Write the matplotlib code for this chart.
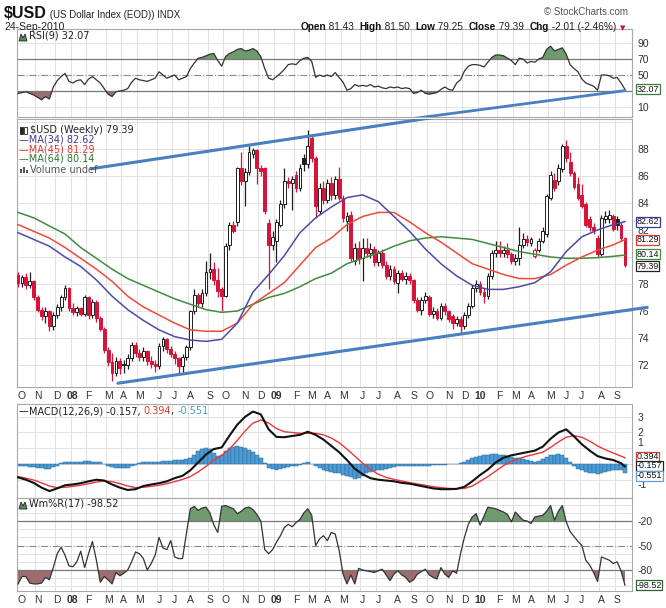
import numpy as np
import pandas as pd
import matplotlib
matplotlib.use('Agg')
import matplotlib.pyplot as plt
from matplotlib.patches import Rectangle, Polygon
from matplotlib.transforms import blended_transform_factory

plt.rcParams['font.family'] = ['DejaVu Sans']

# ---------------- data (weekly) ----------------
weeks = pd.date_range('2007-10-05', periods=156, freq='W-FRI')

opens = [78.7, 78.1, 78.5, 77.9, 78.2, 77.0, 76.1, 75.6, 76.0, 74.9,
         75.7, 76.3, 77.0, 77.7, 76.2, 75.9, 76.2, 75.8, 77.0, 75.7,
         76.7, 75.5, 74.7, 73.1, 72.2, 71.4, 72.3, 72.1, 72.0, 72.5,
         73.5, 72.9, 72.6, 73.0, 72.3, 72.1, 71.9, 73.4, 73.9, 73.2,
         72.8, 72.5, 71.9, 72.6, 73.3, 76.0, 77.2, 76.6, 77.3, 78.9,
         79.1, 78.3, 77.6, 77.1, 80.9, 82.4, 82.6, 86.6, 85.6, 86.3,
         87.6, 87.9, 86.6, 86.6, 82.5, 80.9, 81.2, 82.4, 83.9, 85.6,
         85.5, 86.1, 85.1, 87.3, 86.9, 88.8, 87.3, 83.4, 85.1, 84.2,
         85.5, 84.6, 85.8, 84.4, 82.7, 83.1, 79.7, 80.7, 79.9, 80.7,
         80.3, 80.6, 79.6, 80.3, 79.4, 78.6, 79.1, 78.1, 78.8, 78.4,
         78.6, 78.3, 76.8, 76.1, 76.8, 77.0, 75.8, 76.0, 75.5, 76.4,
         76.0, 75.6, 75.1, 75.4, 74.9, 75.7, 76.4, 77.7, 78.0, 77.4,
         77.1, 78.6, 80.3, 80.5, 80.3, 80.5, 80.2, 79.7, 79.9, 80.9,
         81.3, 81.0, 80.1, 80.5, 81.2, 81.7, 84.4, 85.7, 85.6, 86.5,
         88.2, 87.0, 86.2, 85.4, 84.6, 83.9, 82.8, 82.2, 81.4, 80.2,
         82.8, 82.8, 83.0, 82.8, 82.4, 81.43]
highs = [78.9, 78.7, 78.8, 78.9, 78.3, 77.2, 76.3, 76.3, 76.1, 75.9,
         76.5, 77.2, 77.9, 77.8, 76.6, 76.4, 76.3, 77.2, 77.1, 76.9,
         76.8, 75.6, 74.8, 73.3, 72.9, 72.6, 72.5, 72.4, 72.8, 73.7,
         73.7, 73.2, 73.3, 73.1, 72.7, 72.4, 73.6, 74.1, 74.0, 73.4,
         73.0, 72.6, 72.8, 73.5, 76.1, 77.6, 77.3, 77.6, 79.7, 80.3,
         79.6, 79.2, 77.8, 81.0, 82.6, 82.7, 86.7, 87.8, 86.6, 88.2,
         88.1, 88.0, 86.8, 86.7, 82.8, 81.9, 82.8, 84.2, 86.6, 85.9,
         86.0, 86.4, 86.9, 87.6, 89.4, 89.1, 87.5, 85.5, 85.6, 85.8,
         85.9, 86.0, 86.7, 84.6, 83.3, 83.4, 81.0, 81.2, 81.4, 81.4,
         81.0, 80.8, 80.5, 80.6, 79.7, 79.4, 79.3, 79.0, 79.0, 78.9,
         78.8, 78.4, 77.0, 77.0, 77.4, 77.2, 76.3, 76.2, 76.6, 76.6,
         76.1, 75.8, 75.6, 75.6, 75.9, 76.6, 77.9, 78.3, 78.2, 77.7,
         78.8, 80.5, 81.2, 81.2, 80.8, 81.0, 80.4, 80.2, 82.2, 81.8,
         81.6, 81.5, 80.7, 81.4, 82.2, 84.7, 86.4, 86.2, 86.9, 88.4,
         88.7, 87.8, 86.4, 85.9, 85.4, 84.1, 83.0, 82.5, 81.6, 83.1,
         83.4, 83.5, 83.2, 83.0, 82.6, 81.50]
lows = [77.8, 77.8, 77.6, 77.7, 76.8, 75.9, 75.3, 75.1, 74.5, 74.6,
        75.5, 76.0, 76.8, 76.0, 75.7, 75.6, 75.6, 75.6, 75.4, 75.5,
        75.2, 74.5, 72.9, 71.9, 70.8, 71.2, 71.3, 71.4, 71.7, 72.3,
        72.6, 72.3, 72.3, 72.0, 71.8, 71.5, 71.7, 73.0, 72.9, 72.6,
        72.1, 71.4, 71.5, 72.4, 73.1, 75.8, 76.4, 76.3, 77.1, 78.4,
        77.9, 77.0, 76.0, 77.0, 80.5, 81.8, 82.3, 85.3, 83.8, 86.1,
        87.3, 85.4, 86.0, 83.2, 77.6, 80.5, 79.6, 82.2, 83.6, 85.1,
        83.5, 84.8, 84.9, 86.4, 86.6, 87.0, 82.9, 83.2, 83.9, 84.0,
        84.2, 84.3, 84.2, 82.6, 81.9, 79.7, 79.4, 79.5, 78.2, 80.0,
        79.9, 79.3, 79.3, 79.2, 78.4, 78.3, 78.0, 77.3, 78.2, 78.0,
        78.0, 76.6, 75.9, 75.7, 76.6, 75.6, 75.5, 75.3, 75.3, 75.7,
        75.2, 74.7, 74.9, 74.4, 74.7, 75.5, 76.2, 77.4, 77.2, 76.6,
        76.9, 78.4, 80.0, 80.0, 80.0, 79.9, 79.5, 79.4, 79.4, 80.7,
        80.8, 80.8, 79.9, 80.4, 81.0, 81.5, 84.2, 84.9, 85.3, 86.3,
        87.0, 86.0, 85.0, 84.2, 83.6, 82.2, 81.9, 81.7, 80.0, 80.1,
        82.5, 82.5, 81.9, 82.0, 81.2, 79.25]
closes = [78.1, 78.5, 77.9, 78.2, 77.0, 76.1, 75.6, 76.0, 74.9, 75.7,
          76.3, 77.0, 77.7, 76.2, 75.9, 76.2, 75.8, 77.0, 75.7, 76.7,
          75.5, 74.7, 73.1, 72.2, 71.4, 72.3, 71.8, 72.0, 72.5, 73.5,
          72.9, 72.6, 73.0, 72.3, 72.1, 71.9, 73.4, 73.9, 73.2, 72.8,
          72.5, 71.9, 72.6, 73.3, 76.0, 77.2, 76.6, 77.3, 78.9, 79.1,
          78.3, 77.5, 77.1, 80.8, 82.4, 81.9, 86.6, 85.6, 86.3, 87.8,
          87.9, 86.6, 86.4, 83.4, 80.9, 81.5, 82.6, 83.9, 85.6, 85.5,
          85.8, 85.1, 86.6, 86.9, 88.2, 87.3, 83.8, 85.1, 84.2, 85.5,
          84.6, 85.8, 84.4, 82.9, 83.0, 79.9, 80.7, 79.9, 80.7, 80.3,
          80.6, 79.6, 80.3, 79.4, 78.6, 79.1, 78.2, 78.8, 78.4, 78.6,
          78.3, 76.8, 76.1, 76.8, 77.1, 75.8, 76.0, 75.5, 76.4, 76.0,
          75.4, 75.1, 75.4, 74.9, 75.7, 76.4, 77.7, 78.0, 77.4, 77.1,
          78.6, 80.3, 80.5, 80.3, 80.5, 80.2, 79.7, 79.9, 80.9, 81.3,
          81.1, 81.3, 80.5, 81.2, 81.9, 84.5, 86.1, 85.1, 86.6, 88.2,
          87.3, 86.2, 85.2, 84.4, 83.8, 82.4, 82.2, 82.0, 80.2, 82.9,
          83.0, 83.1, 82.1, 82.4, 81.40, 79.39]

# moving averages, read every 4 weeks
ma_wk = list(range(0, 156, 4)) + [155]
ma34 = [81.8, 81.3, 80.8, 80.0, 79.3, 78.3, 77.1, 76.1, 75.3, 74.6,
        74.1, 73.85, 73.75, 73.9, 75.1, 77.4, 78.7, 80.1, 81.8, 82.9,
        83.7, 84.4, 84.6, 84.1, 83.0, 81.9, 80.6, 79.5, 78.6, 77.9,
        77.6, 77.6, 77.8, 78.1, 78.9, 80.4, 81.5, 82.0, 82.4, 82.62]
ma45 = [82.4, 81.9, 81.4, 80.7, 79.9, 79.1, 78.2, 77.1, 76.3, 75.7,
        75.1, 74.6, 74.5, 74.5, 75.1, 76.5, 77.3, 78.1, 79.4, 80.7,
        81.4, 82.4, 83.0, 83.3, 83.3, 82.6, 81.8, 81.1, 80.3, 79.5,
        79.1, 78.7, 78.4, 78.4, 78.7, 79.4, 80.0, 80.5, 80.9, 81.29]
ma64 = [83.3, 82.9, 82.3, 81.7, 80.7, 79.9, 79.1, 78.4, 77.9, 77.4,
        76.9, 76.5, 76.1, 75.9, 76.0, 76.5, 77.0, 77.3, 77.8, 78.4,
        78.8, 79.5, 79.9, 80.3, 80.8, 81.2, 81.4, 81.5, 81.4, 81.3,
        81.0, 80.7, 80.4, 80.2, 80.0, 79.9, 79.9, 79.95, 80.05, 80.14]

rsi = [27, 28, 29, 27, 25, 22, 19, 23, 20, 35,
       43, 48, 52, 42, 40, 43, 44, 38, 45, 48,
       44, 40, 33, 26, 23, 29, 30, 31, 33, 41,
       46, 44, 43, 42, 44, 46, 54, 50, 46, 48,
       50, 44, 46, 48, 58, 65, 71, 72, 74, 76,
       77, 68, 61, 73, 77, 79, 82, 83, 80, 81,
       83, 80, 73, 58, 46, 44, 48, 52, 57, 63,
       64, 63, 68, 71, 72, 67, 47, 50, 48, 50,
       48, 53, 47, 41, 31, 33, 38, 36, 37, 36,
       38, 35, 36, 34, 33, 35, 34, 35, 33, 34,
       33, 27, 28, 31, 27, 26, 27, 28, 32, 35,
       32, 31, 40, 44, 55, 61, 63, 63, 62, 60,
       66, 72, 75, 75, 74, 71, 68, 63, 71, 70,
       65, 67, 66, 70, 72, 82, 86, 80, 82, 84,
       76, 63, 58, 54, 45, 40, 38, 36, 31, 50,
       50, 49, 46, 47, 40, 32.07]

# MACD(12,26,9), lines read every 2 weeks, histogram weekly
macd_wk = list(range(0, 156, 2)) + [155]
macd = [-0.85, -1.0, -1.2, -1.5, -1.72, -1.55, -1.35, -1.3, -1.22, -1.1,
        -1.0, -1.05, -1.3, -1.5, -1.65, -1.6, -1.4, -1.3, -1.22, -1.1,
        -0.9, -0.75, -0.4, 0.1, 0.6, 0.95, 1.05, 1.8, 2.5, 3.0,
        3.33, 3.15, 2.2, 1.72, 1.7, 1.78, 1.85, 2.05, 1.85, 1.55,
        1.15, 0.75, 0.25, -0.3, -0.65, -0.9, -1.0, -1.05, -1.1, -1.2,
        -1.25, -1.35, -1.45, -1.55, -1.6, -1.6, -1.58, -1.45, -1.1, -0.7,
        -0.35, 0.1, 0.4, 0.55, 0.65, 0.75, 0.85, 1.1, 1.6, 2.0,
        2.2, 1.75, 1.25, 0.85, 0.5, 0.35, 0.25, 0.05, -0.157]
signal = [-0.8, -0.9, -1.02, -1.2, -1.4, -1.5, -1.48, -1.42, -1.35, -1.25,
          -1.15, -1.08, -1.12, -1.25, -1.4, -1.5, -1.48, -1.42, -1.35, -1.25,
          -1.12, -0.98, -0.8, -0.5, -0.15, 0.25, 0.55, 0.95, 1.5, 2.1,
          2.6, 2.8, 2.6, 2.25, 2.05, 2.0, 1.95, 1.95, 1.95, 1.85,
          1.65, 1.35, 0.95, 0.5, 0.05, -0.35, -0.65, -0.85, -0.98, -1.08,
          -1.18, -1.27, -1.35, -1.44, -1.5, -1.55, -1.57, -1.55, -1.4, -1.1,
          -0.8, -0.45, -0.1, 0.15, 0.35, 0.5, 0.62, 0.75, 1.05, 1.4,
          1.7, 1.8, 1.7, 1.45, 1.15, 0.9, 0.7, 0.5, 0.394]
hist = [-0.1, -0.1, -0.15, -0.2, -0.2, -0.25, -0.25, -0.3, -0.3, -0.2, -0.1,
        0.05, 0.1, 0.15, 0.15, 0.15, 0.15, 0.2, 0.2, 0.15, 0.15, 0.1,
        0.0, -0.1, -0.2, -0.25, -0.25, -0.25, -0.25, -0.15, -0.05,
        0.05, 0.1, 0.15, 0.15, 0.15, 0.15, 0.2, 0.2, 0.2, 0.25, 0.25, 0.25, 0.3,
        0.4, 0.6, 0.8, 0.95, 1.0, 0.95, 0.7, 0.5, 0.55, 0.85,
        1.0, 1.1, 1.15, 1.1, 1.0, 0.9, 0.75, 0.55, 0.35, 0.05,
        -0.25, -0.3, -0.35, -0.3, -0.25, -0.2, -0.15, -0.1, -0.05, 0.05,
        0.1, 0.0, -0.1, -0.25, -0.35, -0.45, -0.5, -0.55, -0.6, -0.7,
        -0.75, -0.85, -0.95, -0.9, -0.75, -0.6, -0.5, -0.45, -0.4, -0.35,
        -0.3, -0.25, -0.2, -0.15, -0.12, -0.1, -0.1, -0.1, -0.1, -0.1,
        -0.1, -0.1, -0.08, -0.06, -0.05, -0.04, -0.03, -0.02, 0.0, 0.05,
        0.15, 0.25, 0.35, 0.45, 0.5, 0.55, 0.6, 0.65, 0.65, 0.6,
        0.55, 0.5, 0.45, 0.4, 0.35, 0.3, 0.25, 0.2, 0.15, 0.2,
        0.3, 0.45, 0.55, 0.6, 0.65, 0.55, 0.4, 0.15, -0.1, -0.3,
        -0.4, -0.5, -0.55, -0.6, -0.65, -0.6, -0.5, -0.45, -0.4, -0.4,
        -0.4, -0.551]

willr = [-97, -88, -88, -96, -97, -97, -96, -89, -92, -77,
         -60, -52, -62, -75, -76, -70, -57, -77, -60, -45,
         -68, -95, -88, -92, -97, -83, -87, -84, -80, -70,
         -58, -60, -66, -80, -72, -62, -40, -53, -55, -44,
         -64, -66, -66, -35, -5, -2, -7, -4, -3, -10,
         -25, -34, -2, -1, -3, -5, -11, -8, -4, -3,
         -6, -12, -20, -55, -60, -55, -46, -38, -28, -24,
         -27, -22, -18, -10, -5, -13, -50, -42, -38, -44,
         -34, -36, -56, -85, -97, -86, -97, -78, -80, -81,
         -82, -83, -81, -79, -86, -93, -85, -81, -86, -89,
         -95, -92, -85, -82, -79, -86, -89, -91, -77, -85,
         -89, -81, -84, -60, -40, -24, -15, -11, -25, -14,
         -3, -4, -5, -7, -9, -12, -21, -9, -14, -19,
         -20, -23, -15, -14, -13, -8, -1, -19, -8, -1,
         -21, -33, -39, -45, -50, -68, -74, -83, -94, -64,
         -66, -68, -72, -70, -81, -98.52]

# hand-drawn trend lines (week, value)
upper_trend = ([18.8, 106.0], [86.54, 90.33])
lower_trend = ([25.5, 160.7], [70.65, 76.27])
rsi_trend = ([100.0, 155.0], [-5.0, 30.5])

# ---------------- layout ----------------
W, H = 666, 608
n = len(closes)
x = np.arange(n)
fig = plt.figure(figsize=(W / 100, H / 100), dpi=100)
rend = fig.canvas.get_renderer()


def box(top, bottom):
    return [16.5 / W, 1 - bottom / H, (632 - 16.5) / W, (bottom - top) / H]


ax_rsi = fig.add_axes(box(29, 117))
ax = fig.add_axes(box(119, 387))
ax_macd = fig.add_axes(box(404, 498))
ax_wr = fig.add_axes(box(498, 591))

month_idx = [k for k in range(n) if k == 0 or weeks[k].month != weeks[k - 1].month]
month_lab = [('%02d' % (weeks[k].year % 100)) if weeks[k].month == 1 else 'JFMAMJJASOND'[weeks[k].month - 1]
             for k in month_idx]

GRID = '#e2e2e2'
TXT = '#333333'


def style(a, lo, hi, yt, hgrid, labels=False):
    a.set_xlim(-0.4, 156.8)
    a.set_ylim(lo, hi)
    for s in a.spines.values():
        s.set_color('#a8a8a8')
        s.set_linewidth(0.8)
    for m in month_idx[1:]:
        a.axvline(m + 0.4, color=GRID, lw=0.7, zorder=0)
    for g in hgrid:
        a.axhline(g, color=GRID, lw=0.7, zorder=0)
    a.yaxis.tick_right()
    a.set_yticks(yt)
    a.set_yticklabels([('%g' % v) for v in yt], family='Liberation Sans', fontsize=7.5, color=TXT)
    a.tick_params(axis='y', length=0, pad=4)
    a.tick_params(axis='x', length=0, pad=3)
    if labels:
        a.set_xticks([m + 1.0 for m in month_idx])
        a.set_xticklabels(month_lab, family='Liberation Sans', fontsize=7.5, color=TXT)
        for t, lab in zip(a.get_xticklabels(), month_lab):
            if lab[0].isdigit():
                t.set_fontweight('bold')
    else:
        a.set_xticks([])


def tag(a, val, s, col, dy=0):
    tr = blended_transform_factory(a.transAxes, a.transData)
    a.annotate(s, xy=(1.0075, val), xycoords=tr, xytext=(0, dy), textcoords='offset pixels',
               ha='left', va='center', fontsize=6.4, family='Liberation Sans', color='#111',
               zorder=10, annotation_clip=False,
               bbox=dict(boxstyle='square,pad=0.05', fc='white', ec=col, lw=0.9))


def write(xp, yp, parts, align='left', family='Liberation Sans'):
    objs = []
    for s, col, bold, size in parts:
        objs.append(fig.text(0, 0, s, color=col, fontsize=size, family=family,
                             fontweight='bold' if bold else 'normal', va='baseline'))
    widths = [t.get_window_extent(rend).width for t in objs]
    xx = xp - sum(widths) if align == 'right' else xp
    for t, w in zip(objs, widths):
        t.set_position((xx / W, 1 - yp / H))
        xx += w


def mountain(xp, yp):
    pts = [(xp, yp + 3), (xp + 2, yp - 4), (xp + 4, yp), (xp + 6, yp - 4), (xp + 8, yp + 3)]
    fig.patches.append(Polygon([(u / W, 1 - v / H) for u, v in pts], closed=True,
                               transform=fig.transFigure, fc='#5b8a5b', ec='#222', lw=0.6))


# ---------------- header ----------------
write(4, 18, [('$USD', '#111', True, 11.5), (' (US Dollar Index (EOD)) INDX', '#222', False, 7)])
write(628, 15, [('\u00a9 StockCharts.com', '#555', False, 7)], align='right')
write(4, 30, [('24-Sep-2010', '#222', False, 7.5)])
write(616, 30, [('Open', '#111', True, 7.2), (' 81.43  ', '#222', False, 7.2),
                ('High', '#111', True, 7.2), (' 81.50  ', '#222', False, 7.2),
                ('Low', '#111', True, 7.2), (' 79.25  ', '#222', False, 7.2),
                ('Close', '#111', True, 7.2), (' 79.39  ', '#222', False, 7.2),
                ('Chg', '#111', True, 7.2), (' -2.01 (-2.46%)', '#222', False, 7.2)], align='right')
fig.text(620 / W, 1 - 30 / H, '\u25bc', color='#c8143c', fontsize=5, va='baseline', family='DejaVu Sans')

# ---------------- RSI ----------------
style(ax_rsi, -2.5, 107.5, [10, 50, 70, 90], [10, 90])
r = np.array(rsi, dtype=float)
ax_rsi.fill_between(x, r, 70, where=r >= 70, interpolate=True, color='#6e9a6e', lw=0, zorder=1)
ax_rsi.fill_between(x, r, 30, where=r <= 30, interpolate=True, color='#9d6c6c', lw=0, zorder=1)
ax_rsi.axhline(70, color='#777', lw=0.9, zorder=1)
ax_rsi.axhline(30, color='#777', lw=0.9, zorder=1)
ax_rsi.axhline(50, color='#8a8a8a', lw=0.8, ls='-.', zorder=1)
ax_rsi.plot(x, r, color='#333', lw=0.9, zorder=3)
ax_rsi.plot(*rsi_trend, color='#4a7fc0', lw=2.0, solid_capstyle='round', zorder=4)
tag(ax_rsi, 32.07, '32.07', '#3d7a3d')
mountain(19, 38)
write(29, 38.5, [('RSI(9) 32.07', '#222', False, 7)], family='DejaVu Sans')

# ---------------- price ----------------
style(ax, 70.37, 90.22, [72, 74, 76, 78, 82, 84, 86, 88], list(range(72, 91, 2)), labels=True)
for k in range(n):
    o, h, l, c = opens[k], highs[k], lows[k], closes[k]
    prev = closes[k - 1] if k > 0 else o
    col = '#1e1e1e' if c >= prev else '#d5143b'
    ax.vlines(k, l, h, color=col, lw=0.9, zorder=3)
    face = col if c < o else 'white'
    ax.add_patch(Rectangle((k - 0.36, min(o, c)), 0.72, max(abs(c - o), 0.05),
                           facecolor=face, edgecolor=col, lw=0.7, zorder=4))
ax.plot(ma_wk, ma64, color='#3f8c3f', lw=1.1, zorder=5)
ax.plot(ma_wk, ma45, color='#ec4a3c', lw=1.1, zorder=5)
ax.plot(ma_wk, ma34, color='#4b4ba8', lw=1.1, zorder=5)
ax.plot(*upper_trend, color='#4a7fc0', lw=2.2, solid_capstyle='round', zorder=6)
ax.plot(*lower_trend, color='#4a7fc0', lw=2.2, solid_capstyle='round', zorder=6, clip_on=False)
tag(ax, 82.62, '82.62', '#3b3b9c')
tag(ax, 81.29, '81.29', '#e03a30')
tag(ax, 80.14, '80.14', '#3d8a3d', dy=1)
tag(ax, 79.39, '79.39', '#222', dy=-1)

# legend icons
for dx, filled in [(20, True), (24, False)]:
    fig.patches.append(Rectangle((dx / W, 1 - 134 / H), 2.5 / W, 7 / H, transform=fig.transFigure,
                                 fc='#222' if filled else 'white', ec='#222', lw=0.6))
for dx, hh in [(20, 4), (23, 6), (26, 3)]:
    fig.patches.append(Rectangle((dx / W, 1 - 172.5 / H), 2 / W, hh / H, transform=fig.transFigure,
                                 fc='#555', ec='none'))
write(30, 133, [('$USD (Weekly) 79.39', '#222', False, 7)], family='DejaVu Sans')
write(19, 143, [('\u2014MA(34) 82.62', '#3b3b9c', False, 7)], family='DejaVu Sans')
write(19, 152, [('\u2014MA(45) 81.29', '#e03a30', False, 7)], family='DejaVu Sans')
write(19, 161.5, [('\u2014MA(64) 80.14', '#2f7a2f', False, 7)], family='DejaVu Sans')
write(30, 172.5, [('Volume undef', '#555', False, 7)], family='DejaVu Sans')

# ---------------- MACD ----------------
style(ax_macd, -2.16, 3.81, [-1, 1, 2, 3], [-1, 0, 1, 2, 3])
for t in ax_macd.get_yticklabels():
    if t.get_text() == '-1':
        t.set_va('top')
    if t.get_text() == '1':
        t.set_va('bottom')
ax_macd.bar(x, hist, width=1.0, color='#4c9bd5', edgecolor='#2b6a9c', lw=0.35, zorder=2)
ax_macd.plot(macd_wk, signal, color='#e8383c', lw=1.0, zorder=3)
ax_macd.plot(macd_wk, macd, color='#111', lw=1.5, zorder=4)
tag(ax_macd, 0.394, '0.394', '#e03a30', dy=1)
tag(ax_macd, -0.157, '-0.157', '#222', dy=0.5)
tag(ax_macd, -0.551, '-0.551', '#5aa2da', dy=-3)
write(19, 414, [('\u2014', '#111', False, 7), ('MACD(12,26,9) -0.157, ', '#222', False, 7),
                ('0.394', '#e03a30', False, 7), (', ', '#222', False, 7),
                ('-0.551', '#4a98d4', False, 7)], family='DejaVu Sans')

# ---------------- Williams %R ----------------
style(ax_wr, -105.7, 8.2, [-80, -50, -20], [-100, -90, -70, -60, -40, -30, -10, 0], labels=True)
w = np.array(willr, dtype=float)
ax_wr.fill_between(x, w, -20, where=w >= -20, interpolate=True, color='#6e9a6e', lw=0, zorder=1)
ax_wr.fill_between(x, w, -80, where=w <= -80, interpolate=True, color='#9d6c6c', lw=0, zorder=1)
ax_wr.axhline(-20, color='#777', lw=0.9, zorder=1)
ax_wr.axhline(-80, color='#777', lw=0.9, zorder=1)
ax_wr.axhline(-50, color='#8a8a8a', lw=0.8, ls='-.', zorder=1)
ax_wr.plot(x, w, color='#333', lw=0.9, zorder=3)
tag(ax_wr, -98.52, '-98.52', '#2f5f2f')
mountain(19, 506)
write(29, 506.5, [('Wm%R(17) -98.52', '#222', False, 7)], family='DejaVu Sans')

fig.savefig('out.png', dpi=100)
